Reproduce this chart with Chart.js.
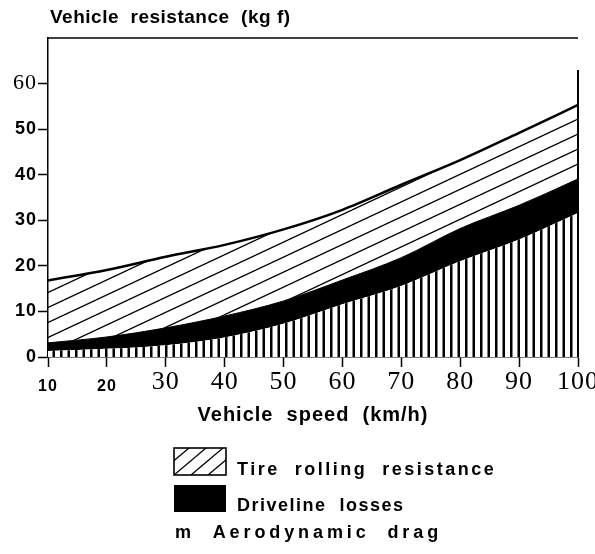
<!DOCTYPE html>
<html>
<head>
<meta charset="utf-8">
<script src="https://cdn.jsdelivr.net/npm/chart.js@4.4.1/dist/chart.umd.min.js"></script>
<style>
html,body{margin:0;padding:0;background:#fff;}
#wrap{width:595px;height:554px;position:relative;}
</style>
</head>
<body>
<div id="wrap"><canvas id="c" width="595" height="554"></canvas></div>
<script>
// ---- data ----
const speeds = [10, 20, 30, 40, 50, 60, 70, 80, 90, 100];
const aerodynamicDrag = [1.3, 1.8, 2.6, 4.3, 7.3, 11.6, 15.6, 21.0, 25.8, 31.6];
const drivelineLosses = [1.8, 2.6, 3.8, 4.7, 5.0, 5.3, 6.2, 7.2, 7.5, 7.4];
const tireRolling = [13.7, 14.7, 15.6, 15.6, 15.7, 15.4, 16.0, 15.0, 15.9, 16.3];
const xTickValues = [10, 20, 30, 40, 50, 60, 70, 80, 90, 100];
const yTickValues = [0, 10, 20, 30, 40, 50, 60];
const seriesNames = ['Tire  rolling  resistance', 'Driveline  losses', 'm  Aerodynamic  drag'];
const yTitle = 'Vehicle  resistance  (kg f)';
const xTitle = 'Vehicle  speed  (km/h)';

const SANS = '"Liberation Sans", Arial, sans-serif';
const SERIF = '"Liberation Serif", "Times New Roman", serif';

function hatchPattern() {
  const c = document.createElement('canvas');
  c.width = 32; c.height = 15;
  const g = c.getContext('2d');
  g.strokeStyle = '#000'; g.lineWidth = 1.3;
  for (let k = -1; k <= 1; k++) for (let j = -1; j <= 1; j++) {
    g.beginPath(); g.moveTo(k * 32, 15 + j * 15); g.lineTo(k * 32 + 32, j * 15); g.stroke();
  }
  return g.createPattern(c, 'repeat');
}
function stripePattern() {
  const c = document.createElement('canvas');
  c.width = 15; c.height = 4;
  const g = c.getContext('2d');
  g.fillStyle = '#fff'; g.fillRect(0, 0, 15, 4);
  g.fillStyle = '#000';
  g.fillRect(0, 0, 2.5, 4); g.fillRect(7.5, 0, 2.5, 4);
  return g.createPattern(c, 'repeat');
}

const pts = arr => speeds.map((s, i) => ({x: s, y: arr[i]}));

const decor = {
  id: 'decor',
  beforeDraw(chart) { chart.ctx.letterSpacing = '1px'; },
  afterDraw(chart) {
    const {ctx, chartArea, scales: {x, y}} = chart;
    ctx.save();
    ctx.strokeStyle = '#000';
    ctx.lineWidth = 1.5;
    const yTop = y.getPixelForValue(70);
    ctx.beginPath(); ctx.moveTo(chartArea.left, yTop); ctx.lineTo(x.getPixelForValue(100), yTop); ctx.stroke();
    ctx.lineWidth = 2;
    const xr = x.getPixelForValue(100);
    ctx.beginPath(); ctx.moveTo(xr, y.getPixelForValue(0)); ctx.lineTo(xr, y.getPixelForValue(63)); ctx.stroke();

    ctx.fillStyle = '#000';
    ctx.textAlign = 'left';
    ctx.textBaseline = 'alphabetic';
    ctx.letterSpacing = '0.5px';
    ctx.font = 'bold 19px ' + SANS;
    ctx.fillText(yTitle, 50, 23);

    // legend swatches
    const sx = 174, sw = 52, sh = 27;
    ctx.save();
    ctx.beginPath(); ctx.rect(sx, 448, sw, sh); ctx.clip();
    ctx.lineWidth = 1.3;
    for (let i = -3; i <= 4; i++) {
      ctx.beginPath(); ctx.moveTo(sx + i * 17, 448 + sh); ctx.lineTo(sx + i * 17 + 32, 448); ctx.stroke();
    }
    ctx.restore();
    ctx.lineWidth = 1.6;
    ctx.strokeRect(sx, 448, sw, sh);
    ctx.fillRect(sx, 485, sw, sh);

    ctx.font = 'bold 18px ' + SANS;
    ctx.letterSpacing = '2.5px';
    ctx.fillText(seriesNames[0], 237, 475);
    ctx.letterSpacing = '1.5px';
    ctx.fillText(seriesNames[1], 237, 511);
    ctx.letterSpacing = '3.9px';
    ctx.fillText(seriesNames[2], 175, 538);
    ctx.restore();
    ctx.letterSpacing = '0px';
  }
};

const tickFontX = ctx => {
  const v = ctx.tick ? ctx.tick.value : 0;
  return v <= 20 ? {family: SANS, size: 16, weight: 'bold', lineHeight: 2.5}
                 : {family: SERIF, size: 26, weight: 'normal', lineHeight: 1.2};
};
const tickFontY = ctx => {
  const v = ctx.tick ? ctx.tick.value : 0;
  return v === 60 ? {family: SERIF, size: 22, weight: 'normal'}
                  : {family: SANS, size: 18, weight: 'bold'};
};
const zeroPad = s => { s.paddingLeft = 0; s.paddingRight = 0; s.paddingTop = 0; s.paddingBottom = 0; };

new Chart(document.getElementById('c'), {
  type: 'line',
  data: {
    datasets: [
      {label: 'Aerodynamic drag', data: pts(aerodynamicDrag), fill: 'origin',
       backgroundColor: stripePattern(), borderWidth: 0, borderColor: 'rgba(0,0,0,0)'},
      {label: 'Driveline losses', data: pts(drivelineLosses), fill: '-1',
       backgroundColor: '#000', borderWidth: 1, borderColor: '#000'},
      {label: 'Tire rolling resistance', data: pts(tireRolling), fill: '-1',
       backgroundColor: hatchPattern(), borderWidth: 2.5, borderColor: '#000'}
    ]
  },
  options: {
    responsive: false,
    animation: false,
    layout: {padding: {left: 0, right: 17, top: 38, bottom: 127}},
    plugins: {legend: {display: false}, tooltip: {enabled: false}, title: {display: false}},
    elements: {point: {radius: 0}, line: {cubicInterpolationMode: 'monotone'}},
    scales: {
      x: {
        type: 'linear', min: 10, max: 100,
        afterBuildTicks: s => { s.ticks = xTickValues.map(v => ({value: v})); },
        afterFit: s => { s.height = 70; zeroPad(s); },
        grid: {display: true, drawOnChartArea: false, drawTicks: true, tickLength: 10, tickColor: '#000', tickWidth: 1.5},
        border: {display: true, color: '#000', width: 1.5},
        ticks: {color: '#000', padding: 0, maxRotation: 0, autoSkip: false, font: tickFontX},
        title: {display: true, text: xTitle, color: '#000', padding: 0,
                font: {family: SANS, size: 20, weight: 'bold', lineHeight: 1.2}}
      },
      y: {
        stacked: true, min: 0, max: 70,
        afterBuildTicks: s => { s.ticks = yTickValues.map(v => ({value: v})); },
        afterFit: s => { s.width = 48; zeroPad(s); },
        grid: {display: true, drawOnChartArea: false, drawTicks: true, tickLength: 10, tickColor: '#000', tickWidth: 1.5},
        border: {display: true, color: '#000', width: 1.5},
        ticks: {color: '#000', padding: 1, font: tickFontY}
      }
    }
  },
  plugins: [decor]
});
</script>
</body>
</html>
